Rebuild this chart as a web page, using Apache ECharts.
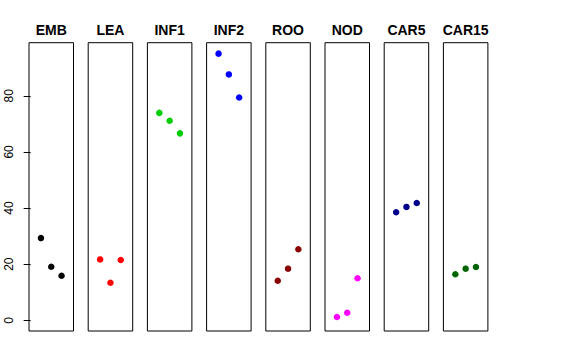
<!DOCTYPE html>
<html><head><meta charset="utf-8">
<script src="https://cdn.jsdelivr.net/npm/echarts@6/dist/echarts.min.js"></script>
<style>html,body{margin:0;padding:0;background:#fff}#c{width:576px;height:360px}</style>
</head><body><div id="c"></div>
<script>
var categories = ['EMB','LEA','INF1','INF2','ROO','NOD','CAR5','CAR15'];
var colors = ['#000000','#FF0000','#00CD00','#0000FF','#8B0000','#FF00FF','#00008B','#006400'];
var xPos = [1, 2, 3];
var EMB = [29.3, 19.1, 15.9];
var LEA = [21.7, 13.4, 21.5];
var INF1 = [73.9, 71.1, 66.6];
var INF2 = [95.0, 87.6, 79.4];
var ROO = [14.1, 18.4, 25.3];
var NOD = [1.2, 2.7, 15.0];
var CAR5 = [38.5, 40.4, 41.8];
var CAR15 = [16.4, 18.4, 19.0];
var yTicks = [0, 20, 40, 60, 80];
var values = [EMB, LEA, INF1, INF2, ROO, NOD, CAR5, CAR15];

var panelLeft0 = 29, panelStep = 59.2, panelW = 44.5, panelTop = 42.7, panelH = 288.3;
var grids = [], xAxes = [], yAxes = [], series = [], graphics = [];
categories.forEach(function (name, i) {
  var left = panelLeft0 + i * panelStep;
  grids.push({left: left, top: panelTop, width: panelW, height: panelH,
    show: true, borderColor: '#000', borderWidth: 1, backgroundColor: 'transparent'});
  xAxes.push({type: 'value', gridIndex: i, min: -0.16, max: 4.16, show: false});
  var ya = {type: 'value', gridIndex: i, min: -3.8, max: 98.9, splitLine: {show: false}};
  if (i === 0) {
    ya.axisLine = {show: false};
    ya.axisTick = {show: true, length: 7, lineStyle: {color: '#000'}, customValues: yTicks};
    ya.axisLabel = {show: true, rotate: 90, margin: 14, color: '#000', fontSize: 12,
      fontFamily: 'Liberation Sans, Arial, sans-serif', customValues: yTicks};
  } else {
    ya.axisLine = {show: false}; ya.axisTick = {show: false}; ya.axisLabel = {show: false};
  }
  yAxes.push(ya);
  series.push({type: 'scatter', name: name, xAxisIndex: i, yAxisIndex: i,
    symbol: 'circle', symbolSize: 6.5, itemStyle: {color: colors[i], opacity: 1},
    data: xPos.map(function (x, k) { return [x, values[i][k]]; }), silent: true});
  graphics.push({type: 'text', x: left + panelW / 2, y: 29.5,
    style: {text: name, textAlign: 'center', textVerticalAlign: 'middle',
      font: 'bold 14px "Liberation Sans", Arial, sans-serif', fill: '#000'}});
});
var chart = echarts.init(document.getElementById('c'), null, {renderer: 'svg'});
chart.setOption({
  animation: false,
  grid: grids, xAxis: xAxes, yAxis: yAxes, series: series, graphic: graphics
});
</script></body></html>
